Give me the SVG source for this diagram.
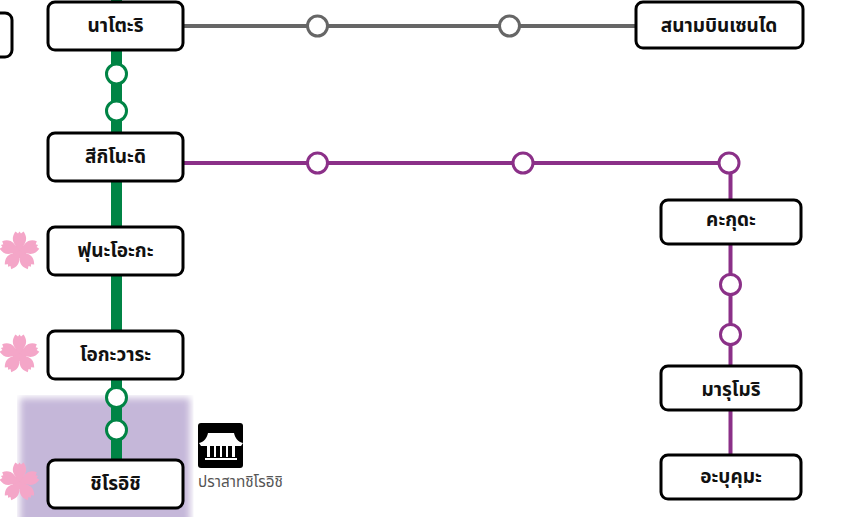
<svg xmlns="http://www.w3.org/2000/svg" width="843" height="517" viewBox="0 0 843 517">
<defs>
<filter id="blur" x="-10%" y="-10%" width="120%" height="120%"><feGaussianBlur stdDeviation="3.500"/></filter>
<clipPath id="glow"><rect x="17" y="395" width="176.500" height="122"/></clipPath>
<path id="petal" d="M0 0 L-5 -7 C-8 -12 -6.500 -16 -4 -19.500 L-1.500 -17.500 L0 -19.500 L1.500 -17.500 L4 -19.500 C6.500 -16 8 -12 5 -7Z"/>
<g id="sakura" class="f">
<circle r="7"/>
<use href="#petal"/>
<use href="#petal" transform="rotate(72)"/>
<use href="#petal" transform="rotate(144)"/>
<use href="#petal" transform="rotate(216)"/>
<use href="#petal" transform="rotate(288)"/>
</g>
</defs>
<style>
.n{fill:#fff;stroke:#000;stroke-width:3}
.t{font-family:"Noto Sans Thai","Noto Sans","Liberation Sans",sans-serif;font-size:19px;font-weight:700;fill:#111;text-anchor:middle}
.s{fill:#fff;stroke-width:3}
.g{stroke:#008445}.p{stroke:#8b3088}.y{stroke:#666}
.f{fill:#f4a6c8}
</style>
<g clip-path="url(#glow)"><rect x="20" y="398" width="170" height="130" fill="#c5b7d9" filter="url(#blur)"/></g>
<g id="connectors" fill="none">
<path class="g" stroke-width="11" d="M116.500 0V500"/>
<path class="y" stroke-width="4" d="M183 26H636"/>
<path class="p" stroke-width="4" d="M183 163H729M730.500 163V480"/>
<circle class="s g" cx="116.500" cy="74" r="10"/>
<circle class="s g" cx="116.500" cy="111" r="10"/>
<circle class="s g" cx="116.500" cy="397.500" r="10"/>
<circle class="s g" cx="116.500" cy="430" r="10"/>
<circle class="s y" cx="317.500" cy="26" r="10"/>
<circle class="s y" cx="509.500" cy="26" r="10"/>
<circle class="s p" cx="317.500" cy="163" r="10"/>
<circle class="s p" cx="523" cy="163" r="10"/>
<circle class="s p" cx="729" cy="163" r="10"/>
<circle class="s p" cx="730.500" cy="284.500" r="10"/>
<circle class="s p" cx="730.500" cy="334.500" r="10"/>
</g>
<g id="node-partial"><rect class="n" x="-60" y="13" width="72" height="44" rx="7"/></g>
<g id="natori"><rect class="n" x="48" y="2" width="135" height="48" rx="7"/><text class="t" x="115.500" y="32">นาโตะริ</text></g>
<g id="tsukinoki"><rect class="n" x="48" y="133" width="135" height="48" rx="7"/><text class="t" x="115.500" y="163">สีกิโนะดิ</text></g>
<g id="funaoka"><use href="#sakura" x="19.500" y="251"/><rect class="n" x="48" y="227" width="135" height="48" rx="7"/><text class="t" x="115.500" y="257">ฟุนะโอะกะ</text></g>
<g id="ogawara"><use href="#sakura" x="19.500" y="354"/><rect class="n" x="48" y="331" width="135" height="48" rx="7"/><text class="t" x="115.500" y="361">โอกะวาระ</text></g>
<g id="shiroishi"><use href="#sakura" x="19.500" y="482"/><rect class="n" x="48" y="460" width="135" height="48" rx="7"/><text class="t" x="115.500" y="490">ชิโรอิชิ</text></g>
<g id="airport"><rect class="n" x="636" y="2" width="167" height="46" rx="7"/><text class="t" x="719" y="32">สนามบินเซนได</text></g>
<g id="kakuda"><rect class="n" x="661" y="200" width="140" height="44" rx="7"/><text class="t" x="731" y="226">คะกุดะ</text></g>
<g id="marumori"><rect class="n" x="661" y="366" width="140" height="44" rx="7"/><text class="t" x="731" y="396">มารุโมริ</text></g>
<g id="abukuma"><rect class="n" x="661" y="455" width="140" height="44" rx="7"/><text class="t" x="731" y="483">อะบุคุมะ</text></g>
<g id="castle">
<rect x="198" y="423" width="45" height="45" rx="3" fill="#000"/>
<path fill="#fff" d="M208 433H234C235 438 238 442 243 443L241 446H201L199 443C204 442 207 438 208 433ZM207 446H210V457H207ZM214 446H216V457H214ZM220 446H222V457H220ZM226 446H228V457H226ZM232 446H235V457H232ZM205 458H237V460H205Z"/>
<text x="198" y="487" font-family="'Noto Sans Thai','Noto Sans','Liberation Sans',sans-serif" font-size="15.300" fill="#555">ปราสาทชิโรอิชิ</text>
</g>
</svg>
